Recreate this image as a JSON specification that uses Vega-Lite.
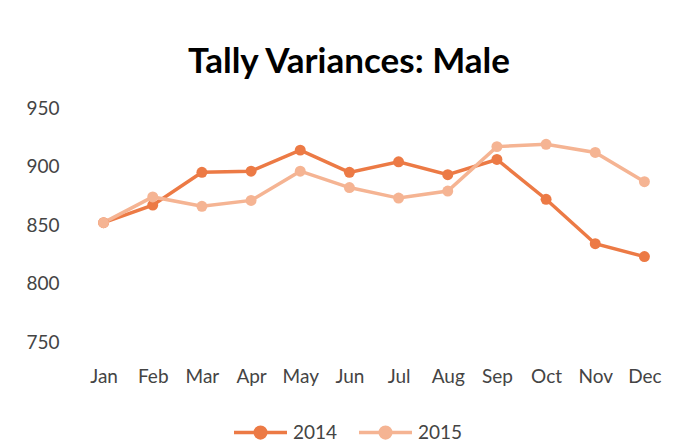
{
  "$schema": "https://vega.github.io/schema/vega-lite/v6.json",
  "width": 590,
  "height": 234,
  "autosize": "none",
  "padding": {"left": 79, "top": 108, "right": 12, "bottom": 102},
  "background": "white",
  "title": {
    "text": "Tally Variances: Male",
    "font": "Lato",
    "fontSize": 35,
    "fontWeight": "bold",
    "color": "#000000",
    "anchor": "middle",
    "dx": -25,
    "offset": 19
  },
  "data": {
    "values": [
      {"month": "Jan", "year": "2014", "value": 852},
      {"month": "Feb", "year": "2014", "value": 867},
      {"month": "Mar", "year": "2014", "value": 895},
      {"month": "Apr", "year": "2014", "value": 896},
      {"month": "May", "year": "2014", "value": 914},
      {"month": "Jun", "year": "2014", "value": 895},
      {"month": "Jul", "year": "2014", "value": 904},
      {"month": "Aug", "year": "2014", "value": 893},
      {"month": "Sep", "year": "2014", "value": 906},
      {"month": "Oct", "year": "2014", "value": 872},
      {"month": "Nov", "year": "2014", "value": 834},
      {"month": "Dec", "year": "2014", "value": 823},
      {"month": "Jan", "year": "2015", "value": 852},
      {"month": "Feb", "year": "2015", "value": 874},
      {"month": "Mar", "year": "2015", "value": 866},
      {"month": "Apr", "year": "2015", "value": 871},
      {"month": "May", "year": "2015", "value": 896},
      {"month": "Jun", "year": "2015", "value": 882},
      {"month": "Jul", "year": "2015", "value": 873},
      {"month": "Aug", "year": "2015", "value": 879},
      {"month": "Sep", "year": "2015", "value": 917},
      {"month": "Oct", "year": "2015", "value": 919},
      {"month": "Nov", "year": "2015", "value": 912},
      {"month": "Dec", "year": "2015", "value": 887}
    ]
  },
  "mark": {"type": "line", "strokeWidth": 3.5, "point": {"filled": true, "size": 120}},
  "encoding": {
    "x": {
      "field": "month",
      "type": "nominal",
      "sort": ["Jan","Feb","Mar","Apr","May","Jun","Jul","Aug","Sep","Oct","Nov","Dec"],
      "scale": {"padding": 0.5},
      "axis": {
        "title": null,
        "labelAngle": 0,
        "domain": false,
        "ticks": false,
        "grid": false,
        "labelFont": "Lato",
        "labelFontSize": 19,
        "labelColor": "#444444",
        "labelPadding": 25
      }
    },
    "y": {
      "field": "value",
      "type": "quantitative",
      "scale": {"domain": [750, 950], "zero": false, "nice": false},
      "axis": {
        "title": null,
        "values": [750, 800, 850, 900, 950],
        "domain": false,
        "ticks": false,
        "grid": false,
        "labelFont": "Lato",
        "labelFontSize": 19,
        "labelColor": "#444444",
        "labelPadding": 20
      }
    },
    "color": {
      "field": "year",
      "type": "nominal",
      "scale": {"domain": ["2014", "2015"], "range": ["#EC7A45", "#F5B493"]},
      "legend": {
        "title": null,
        "orient": "none",
        "direction": "horizontal",
        "legendX": 153,
        "legendY": 296,
        "padding": 0,
        "symbolType": "M-1,0H1M-0.2,0A0.2,0.2 0 1,1 0.2,0A0.2,0.2 0 1,1 -0.2,0Z",
        "symbolSize": 2809,
        "symbolStrokeWidth": 3.5,
        "labelFont": "Lato",
        "labelFontSize": 19,
        "labelColor": "#444444",
        "labelOffset": 4,
        "columnPadding": 14,
        "encode": {"symbols": {"update": {
          "fill": {"scale": "color", "field": "value"},
          "stroke": {"scale": "color", "field": "value"},
          "strokeWidth": {"value": 3.5},
          "opacity": {"value": 1}
        }}}
      }
    }
  },
  "config": {"view": {"stroke": null}}
}
